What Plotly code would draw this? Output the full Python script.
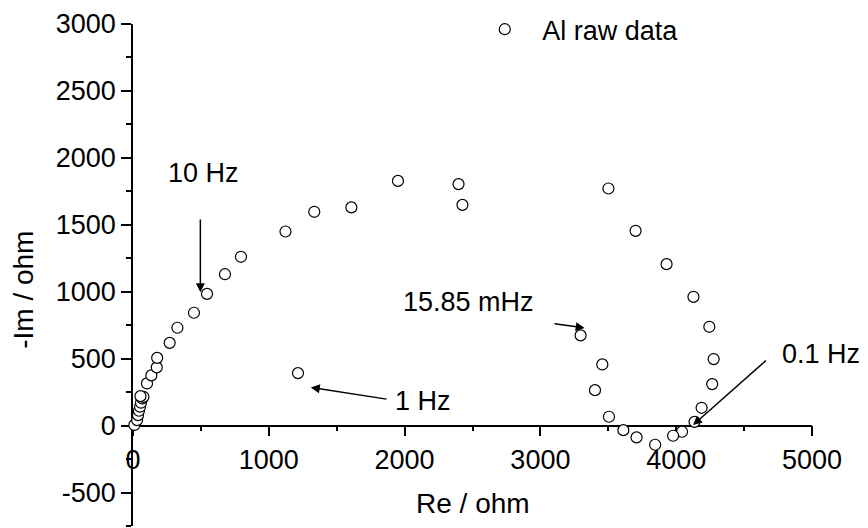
import plotly.graph_objects as go

# ---- data (Re, -Im in ohm) ----
re_ohm = [10, 30, 37, 44, 52, 59, 69, 77, 55, 103, 135, 175, 178, 270, 327, 449, 545,
          677, 795, 1123, 1335, 1608, 1951, 2397, 2426, 1215,
          3501, 3701, 3929, 4127, 4244, 4276, 4265, 4187, 4135,
          4043, 3977, 3845, 3708, 3611, 3505, 3402, 3456, 3296]
im_ohm = [5, 41, 78, 111, 141, 171, 203, 215, 220, 315, 375, 435, 506, 618, 731, 843, 984,
          1131, 1261, 1450, 1597, 1630, 1828, 1804, 1649, 392,
          1771, 1455, 1206, 962, 738, 497, 310, 133, 28,
          -46, -76, -143, -88, -34, 66, 265, 457, 674]
series_name = "Al raw data"

x_ticks = [0, 1000, 2000, 3000, 4000, 5000]
y_ticks = [-500, 0, 500, 1000, 1500, 2000, 2500, 3000]

# frequency labels: text, arrow tail, arrow tip (data coords)
freq_labels = ["10 Hz", "1 Hz", "15.85 mHz", "0.1 Hz"]
arrow_tail = [(496, 1550), (1878, 196), (3093, 763), (4672, 496)]
arrow_tip = [(496, 997), (1309, 285), (3326, 730), (4124, 4)]
# label text centres: (x in paper units, y in data units)
label_pos = [(0.1041, 1886), (0.4266, 183), (0.4944, 926), (1.0138, 534)]

FONT = "Liberation Sans, Arial, sans-serif"
FS = 27

fig = go.Figure()
fig.add_trace(go.Scatter(
    x=re_ohm, y=im_ohm, mode="markers", name=series_name,
    marker=dict(symbol="circle", size=11, color="white",
                line=dict(color="black", width=1.2)),
    cliponaxis=False,
))

annotations = []
for txt, (tx, ty), (ax, ay), (px, py) in zip(freq_labels, label_pos, arrow_tail, arrow_tip):
    annotations.append(dict(x=tx, y=ty, xref="paper", yref="y", text=txt, showarrow=False,
                            font=dict(family=FONT, size=FS, color="black"),
                            xanchor="center", yanchor="middle"))
    annotations.append(dict(x=px, y=py, ax=ax, ay=ay, xref="x", yref="y",
                            axref="x", ayref="y", text="", showarrow=True,
                            arrowhead=2, arrowsize=1.2, arrowwidth=1.5,
                            arrowcolor="black", standoff=0))

# axis titles
annotations.append(dict(x=0.5, y=0.044, xref="paper", yref="paper", text="Re / ohm",
                        showarrow=False, font=dict(family=FONT, size=28, color="black"),
                        xanchor="center", yanchor="middle"))
annotations.append(dict(x=-0.1624, y=0.47, xref="paper", yref="paper", text="-Im / ohm",
                        textangle=-90, showarrow=False,
                        font=dict(family=FONT, size=28, color="black"),
                        xanchor="center", yanchor="middle"))

# page body has an 8px margin, so the figure is shrunk by 8px and margins compensate
fig.update_layout(
    width=860, height=520,
    margin=dict(l=125, r=56, t=16, b=2, autoexpand=False),
    paper_bgcolor="white", plot_bgcolor="white",
    font=dict(family=FONT, size=FS, color="black"),
    showlegend=True,
    legend=dict(x=0.4923, y=0.9887, xanchor="left", yanchor="middle", itemwidth=65,
                bgcolor="rgba(0,0,0,0)", font=dict(family=FONT, size=FS, color="black")),
    annotations=annotations,
    xaxis=dict(range=[0, 5000], anchor="free", position=0.2,
               showline=True, linecolor="black", linewidth=1.5,
               showgrid=False, zeroline=False,
               ticks="outside", ticklen=10, tickwidth=1.5, tickcolor="black",
               tickvals=x_ticks, ticktext=[str(v) for v in x_ticks],
               minor=dict(dtick=500, tick0=0, ticks="outside", ticklen=5,
                          tickwidth=1.5, tickcolor="black", showgrid=False),
               tickfont=dict(family=FONT, size=FS, color="black"),
               layer="below traces"),
    yaxis=dict(range=[-750, 3000], anchor="x",
               showline=True, linecolor="black", linewidth=1.5,
               showgrid=False, zeroline=False,
               ticks="outside", ticklen=10, tickwidth=1.5, tickcolor="black",
               tickvals=y_ticks, ticktext=[str(v) for v in y_ticks],
               minor=dict(dtick=250, tick0=0, ticks="outside", ticklen=5,
                          tickwidth=1.5, tickcolor="black", showgrid=False),
               tickfont=dict(family=FONT, size=FS, color="black"),
               layer="below traces"),
)

fig.write_html("out.html")
